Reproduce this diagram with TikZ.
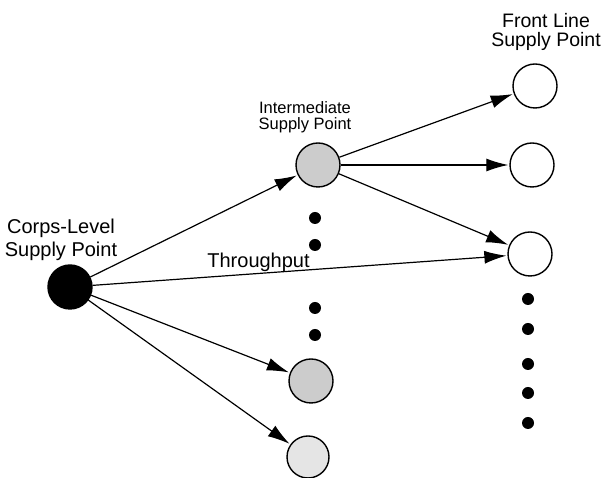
\documentclass[tikz,border=0pt]{standalone}
\usepackage{fontspec}
\setmainfont{Liberation Sans}
\usetikzlibrary{arrows.meta}
\tikzset{>={Latex[length=22pt,width=13pt]}}
\tikzstyle{site}=[draw=black,circle,line width=1.4pt,minimum size=44pt,inner sep=0pt]
\tikzstyle{flow}=[draw=black,line width=1.2pt,->,shorten >=1pt]
\tikzstyle{caption}=[align=center,inner sep=0pt]

\begin{document}
\begin{tikzpicture}[x=1pt,y=1pt]
    \useasboundingbox (0,0) rectangle (608,478);

    % supply points
    \node[site,fill=black] (corps) at (70,191) {};
    \node[site,fill=gray!40] (inter) at (318,313) {};
    \node[site,fill=gray!40] (low1) at (311,97) {};
    \node[site,fill=gray!20,minimum size=42pt] (low2) at (308,21) {};
    \node[site] (front1) at (535,392) {};
    \node[site] (front2) at (532,313) {};
    \node[site] (front3) at (530,224) {};

    % labels
    \node[caption,font=\fontsize{20}{23}\selectfont] (corpslbl) at (61,238) {Corps-Level\\Supply Point};
    \node[caption,font=\fontsize{16.5}{16.5}\selectfont] (interlbl) at (305,361) {Intermediate\\Supply Point};
    \node[caption,font=\fontsize{19.5}{19.5}\selectfont] (frontlbl) at (546,446) {Front Line\\Supply Point};

    % connectors
    \draw[flow] (corps) -- (inter);
    \draw[flow] (corps) -- node[above,pos=0.4,inner sep=1.5pt,font=\fontsize{20}{20}\selectfont] (thru) {Throughput} (front3);
    \draw[flow] (corps) -- (low1);
    \draw[flow] (corps) -- (low2);
    \draw[flow] (inter) -- (front1);
    \draw[flow] (inter) -- (front2);
    \draw[flow] (inter) -- (front3);

    % ellipsis dots
    \foreach \y in {260,233,170,143} \fill (315,\y) circle (6pt);
    \foreach \y in {179,149,114,85,55} \fill (528,\y) circle (6pt);
\end{tikzpicture}
\end{document}
